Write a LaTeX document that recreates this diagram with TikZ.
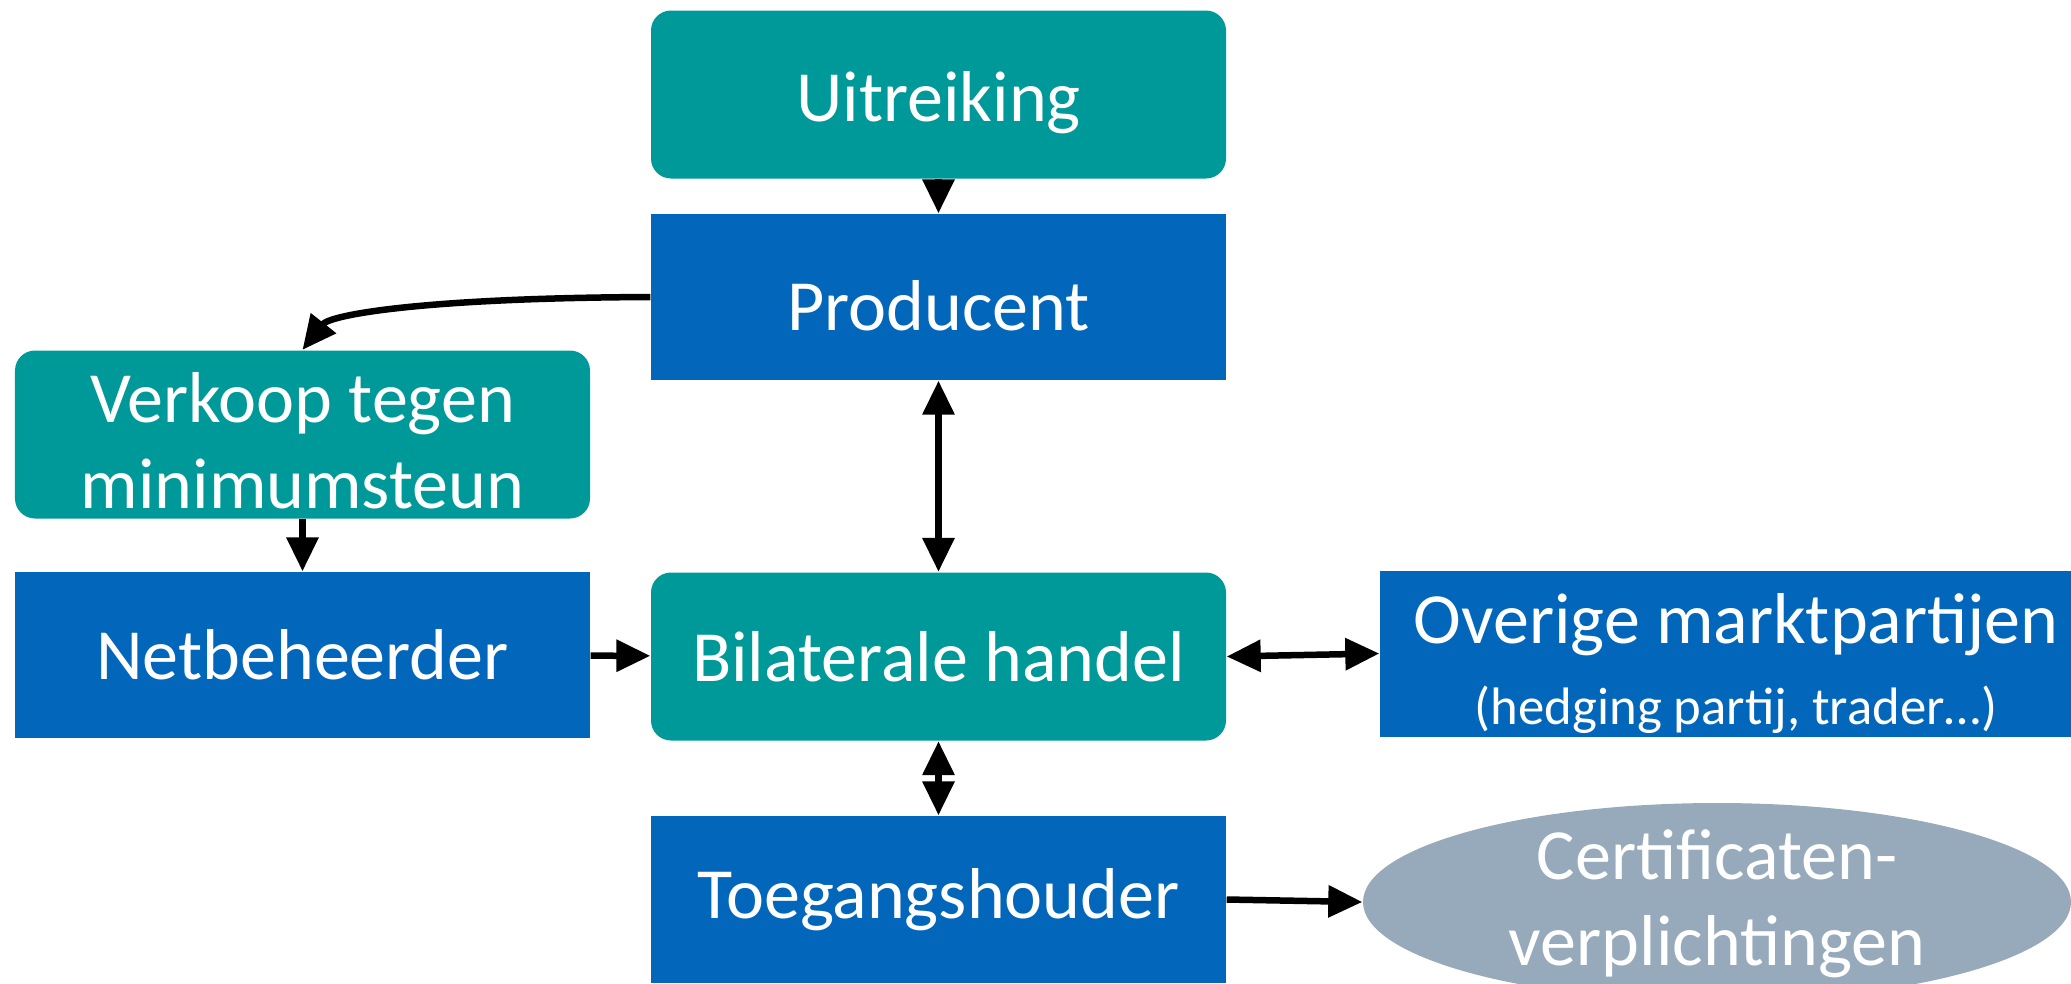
\documentclass[tikz,border=0pt]{standalone}
\usepackage{fontspec}
\setmainfont{Carlito}
\usetikzlibrary{arrows.meta,shapes.geometric}
\definecolor{tealc}{RGB}{0,153,153}
\definecolor{bluec}{RGB}{2,102,187}
\definecolor{greyc}{RGB}{151,170,187}
\begin{document}
\begin{tikzpicture}[
  every node/.style={text=white, align=center, inner sep=0pt,
    font=\fontsize{20.5}{24.5}\selectfont},
  roundbox/.style={fill=tealc, rounded corners=0.2cm, minimum width=5.75cm, minimum height=1.68cm},
  squarebox/.style={fill=bluec, minimum width=5.75cm, minimum height=1.66cm},
  oval/.style={ellipse, fill=greyc, minimum width=7.08cm, minimum height=1.98cm},
  link/.style={line width=0.065cm, -{Triangle[length=0.34cm,width=0.31cm]}},
  dlink/.style={line width=0.065cm, {Triangle[length=0.34cm,width=0.31cm]}-{Triangle[length=0.34cm,width=0.31cm]}}
]
\useasboundingbox (0,0) rectangle (20.71,-9.83);
\clip (0,0) rectangle (20.71,-9.83);
\node[roundbox] (uitr) at (9.385,-0.945) {\rule{0pt}{19pt}Uitreiking};
\node[squarebox] (prod) at (9.385,-2.97) {\rule{0pt}{19pt}Producent};
\node[roundbox] (verk) at (3.025,-4.345) {\rule{0pt}{18pt}Verkoop tegen\\minimumsteun};
\node[squarebox] (netb) at (3.025,-6.55) {Netbeheerder};
\node[roundbox] (bila) at (9.385,-6.565) {Bilaterale handel};
\node[squarebox, minimum width=7.12cm] (over) at (17.36,-6.535)
  {\rule{0pt}{20pt}Overige marktpartijen\\[-1.5pt]{\fontsize{15}{18}\selectfont (hedging partij, trader…)}};
\node[squarebox, minimum height=1.67cm] (toeg) at (9.385,-8.995) {Toegangshouder};
\node[oval] (cert) at (17.17,-9.02) {};
\node (certtxt) at (17.17,-9.04) {Certificaten-\\verplichtingen};
% arrows
\draw[link] (uitr) -- (prod);
\draw[dlink] (prod) -- (bila);
\draw[link] (prod.west) .. controls (4.2,-2.98) and (3.3,-3.15) .. (verk.north);
\draw[link] (verk) -- (netb);
\draw[link] (netb) -- (bila);
\draw[dlink] (bila.east) -- (over.west);
\draw[dlink] (bila) -- (toeg);
\draw[link] (toeg.east) -- (cert.west);
\end{tikzpicture}
\end{document}
